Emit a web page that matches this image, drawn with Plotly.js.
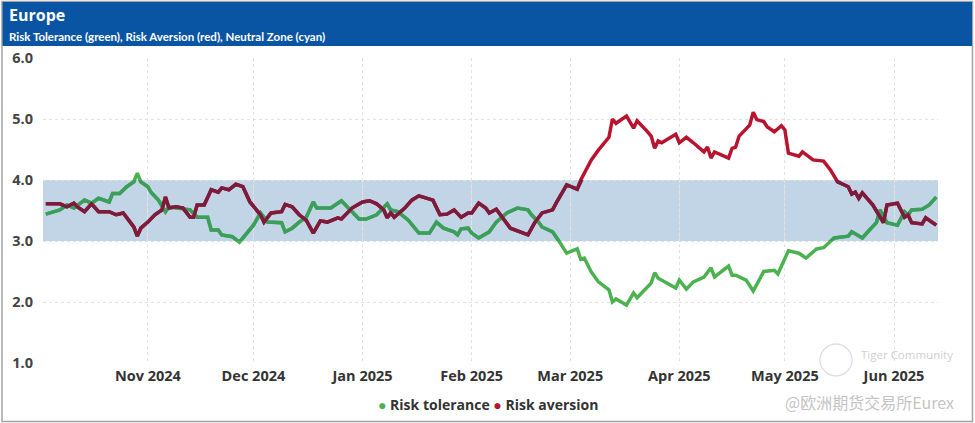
<!DOCTYPE html>
<html>
<head>
<meta charset="utf-8">
<script src="https://cdn.plot.ly/plotly-3.0.1.min.js"></script>
<style>html,body{margin:0;padding:0;background:#fff}#chart{width:975px;height:423px}</style>
</head>
<body>
<div id="chart"></div>
<script>
// ---- Data ----
const tolDates = ['2024-10-03','2024-10-07','2024-10-09','2024-10-11','2024-10-14','2024-10-16','2024-10-18','2024-10-21','2024-10-22','2024-10-24','2024-10-26','2024-10-28','2024-10-29','2024-10-30',
'2024-11-01','2024-11-02','2024-11-04','2024-11-06','2024-11-07','2024-11-10','2024-11-13','2024-11-15','2024-11-18','2024-11-19','2024-11-21','2024-11-22','2024-11-25','2024-11-27','2024-11-28',
'2024-12-01','2024-12-03','2024-12-05','2024-12-09','2024-12-10','2024-12-12','2024-12-14','2024-12-16','2024-12-18','2024-12-19','2024-12-23','2024-12-26','2024-12-28','2024-12-31',
'2025-01-02','2025-01-05','2025-01-08','2025-01-09','2025-01-11','2025-01-14','2025-01-17','2025-01-20','2025-01-22','2025-01-24','2025-01-27','2025-01-28','2025-01-29','2025-01-31',
'2025-02-01','2025-02-03','2025-02-06','2025-02-08','2025-02-11','2025-02-14','2025-02-17','2025-02-18','2025-02-20','2025-02-21','2025-02-24','2025-02-25','2025-02-28',
'2025-03-03','2025-03-04','2025-03-05','2025-03-07','2025-03-09','2025-03-12','2025-03-13','2025-03-14','2025-03-17','2025-03-19','2025-03-20','2025-03-24','2025-03-25','2025-03-26','2025-03-31',
'2025-04-01','2025-04-03','2025-04-05','2025-04-08','2025-04-10','2025-04-11','2025-04-15','2025-04-16','2025-04-17','2025-04-20','2025-04-22','2025-04-24','2025-04-25','2025-04-28','2025-04-29',
'2025-05-02','2025-05-05','2025-05-07','2025-05-10','2025-05-12','2025-05-15','2025-05-19','2025-05-20','2025-05-23','2025-05-25','2025-05-27','2025-05-28','2025-05-30',
'2025-06-02','2025-06-04','2025-06-05','2025-06-06','2025-06-09','2025-06-11','2025-06-13'];
const tolValues = [3.44,3.51,3.59,3.54,3.67,3.62,3.70,3.64,3.78,3.78,3.89,3.97,4.11,3.97,
3.89,3.79,3.67,3.48,3.56,3.54,3.51,3.39,3.39,3.18,3.18,3.10,3.07,2.98,3.05,
3.26,3.46,3.31,3.30,3.15,3.21,3.31,3.39,3.64,3.54,3.54,3.66,3.54,3.36,
3.36,3.43,3.61,3.51,3.48,3.34,3.13,3.13,3.31,3.21,3.15,3.10,3.20,3.21,
3.13,3.05,3.15,3.31,3.46,3.54,3.51,3.43,3.31,3.23,3.15,3.07,2.80,
2.87,2.70,2.72,2.49,2.33,2.20,2.00,2.05,1.95,2.15,2.07,2.31,2.48,2.39,2.23,
2.36,2.21,2.33,2.41,2.56,2.41,2.59,2.44,2.44,2.36,2.18,2.39,2.50,2.52,2.46,
2.84,2.80,2.72,2.87,2.89,3.05,3.08,3.15,3.05,3.18,3.30,3.51,3.30,
3.26,3.48,3.43,3.51,3.52,3.59,3.72];

const avDates = ['2024-10-03','2024-10-07','2024-10-09','2024-10-11','2024-10-12','2024-10-14','2024-10-16','2024-10-18','2024-10-21','2024-10-23','2024-10-25','2024-10-27','2024-10-28','2024-10-29','2024-10-30',
'2024-11-01','2024-11-03','2024-11-05','2024-11-06','2024-11-07','2024-11-09','2024-11-11','2024-11-13','2024-11-14','2024-11-15','2024-11-17','2024-11-19','2024-11-21','2024-11-22','2024-11-24','2024-11-26','2024-11-28','2024-11-30',
'2024-12-03','2024-12-04','2024-12-06','2024-12-09','2024-12-10','2024-12-12','2024-12-14','2024-12-16','2024-12-18','2024-12-20','2024-12-22','2024-12-25','2024-12-26','2024-12-29',
'2025-01-01','2025-01-03','2025-01-05','2025-01-07','2025-01-08','2025-01-09','2025-01-10','2025-01-13','2025-01-15','2025-01-17','2025-01-21','2025-01-23','2025-01-25','2025-01-27','2025-01-29','2025-01-31',
'2025-02-01','2025-02-03','2025-02-05','2025-02-06','2025-02-08','2025-02-10','2025-02-12','2025-02-17','2025-02-19','2025-02-21','2025-02-24','2025-02-25','2025-02-28',
'2025-03-03','2025-03-04','2025-03-07','2025-03-09','2025-03-12','2025-03-13','2025-03-14','2025-03-17','2025-03-19','2025-03-20','2025-03-23','2025-03-24','2025-03-25','2025-03-26','2025-03-27','2025-03-31',
'2025-04-01','2025-04-03','2025-04-05','2025-04-08','2025-04-09','2025-04-10','2025-04-11','2025-04-15','2025-04-16','2025-04-17','2025-04-18','2025-04-21','2025-04-22','2025-04-23','2025-04-25','2025-04-26','2025-04-28','2025-04-30',
'2025-05-01','2025-05-02','2025-05-05','2025-05-06','2025-05-09','2025-05-12','2025-05-14','2025-05-16','2025-05-19','2025-05-20','2025-05-21','2025-05-22','2025-05-23','2025-05-26','2025-05-29','2025-05-30',
'2025-06-02','2025-06-04','2025-06-05','2025-06-06','2025-06-09','2025-06-10','2025-06-12','2025-06-13'];
const avValues = [3.61,3.61,3.56,3.62,3.56,3.48,3.61,3.48,3.48,3.43,3.46,3.31,3.23,3.08,3.21,
3.31,3.43,3.51,3.72,3.54,3.56,3.54,3.39,3.39,3.59,3.59,3.84,3.80,3.87,3.84,3.93,3.89,3.64,
3.43,3.31,3.46,3.48,3.60,3.56,3.43,3.34,3.13,3.33,3.31,3.38,3.36,3.54,
3.64,3.66,3.61,3.51,3.38,3.46,3.39,3.54,3.67,3.74,3.67,3.43,3.44,3.51,3.39,3.46,
3.46,3.62,3.54,3.46,3.52,3.36,3.21,3.10,3.31,3.46,3.51,3.62,3.92,
3.85,4.00,4.33,4.49,4.70,5.00,4.93,5.05,4.85,4.97,4.79,4.72,4.52,4.64,4.61,4.75,
4.61,4.70,4.61,4.46,4.54,4.36,4.46,4.36,4.52,4.54,4.72,4.90,5.11,4.99,4.96,4.87,4.79,4.89,
4.82,4.44,4.39,4.46,4.33,4.31,4.16,3.97,3.89,3.77,3.80,3.70,3.79,3.59,3.30,3.59,
3.62,3.39,3.43,3.30,3.28,3.38,3.30,3.26];

const neutralZone = [3, 4];
const seriesNames = ['Risk tolerance', 'Risk aversion'];

// ---- Styling ----
const GREEN = '#4cb14f', GREEN_IN = '#3c9e5c';
const RED = '#b8142f', RED_IN = '#7c1c3c';
const FONT = 'Open Sans, Noto Sans, sans-serif';

// px helpers for paper coordinates (plot area: x 43..938, y 58..363)
const L = 43, R = 938, T = 58, B = 363;
const px = x => (x - L) / (R - L);
const py = y => (B - y) / (B - T);

const traces = [
  {x: tolDates, y: tolValues, name: seriesNames[0], type: 'scatter', mode: 'lines',
   line: {color: GREEN, width: 3.5}, xaxis: 'x', yaxis: 'y', hoverinfo: 'x+y'},
  {x: avDates, y: avValues, name: seriesNames[1], type: 'scatter', mode: 'lines',
   line: {color: RED, width: 3.5}, xaxis: 'x', yaxis: 'y', hoverinfo: 'x+y'},
  // same series drawn on an overlay axis covering only the neutral zone (clipped there)
  {x: tolDates, y: tolValues, name: seriesNames[0], type: 'scatter', mode: 'lines',
   line: {color: GREEN_IN, width: 3.5}, xaxis: 'x', yaxis: 'y2', hoverinfo: 'skip', showlegend: false},
  {x: avDates, y: avValues, name: seriesNames[1], type: 'scatter', mode: 'lines',
   line: {color: RED_IN, width: 3.5}, xaxis: 'x', yaxis: 'y2', hoverinfo: 'skip', showlegend: false}
];

const yMin = 1, yMax = 6;
const layout = {
  width: 975, height: 423,
  margin: {l: L, r: 975 - R, t: T, b: 423 - B, pad: 0},
  paper_bgcolor: '#ffffff',
  plot_bgcolor: 'rgba(0,0,0,0)',
  showlegend: false,
  font: {family: FONT, color: '#333'},
  xaxis: {
    type: 'date',
    range: ['2024-10-02 05:00', '2025-06-13 12:00'],
    tick0: '2024-11-01', dtick: 'M1', tickformat: '%b %Y',
    showgrid: true, gridcolor: '#e2e2e2', griddash: 'dot', gridwidth: 1,
    zeroline: false, showline: false, ticks: '',
    ticklabelstandoff: 2,
    tickfont: {family: FONT, size: 14.5, color: '#333', weight: 700}
  },
  yaxis: {
    range: [yMin, yMax], dtick: 1, tickformat: '.1f',
    showgrid: true, gridcolor: '#e2e2e2', griddash: 'dot', gridwidth: 1,
    zeroline: false, showline: false, ticks: '',
    ticklabelstandoff: 9,
    tickfont: {family: FONT, size: 14.5, color: '#444', weight: 700}
  },
  yaxis2: {
    range: neutralZone,
    domain: [(neutralZone[0] - yMin) / (yMax - yMin), (neutralZone[1] - yMin) / (yMax - yMin)],
    anchor: 'x', visible: false, showgrid: false, zeroline: false
  },
  shapes: [
    // outer frame
    {type: 'rect', xref: 'paper', yref: 'paper', x0: px(2), x1: px(972.5), y0: py(421.5), y1: py(1.5),
     line: {color: '#a3a3a3', width: 1.5}, fillcolor: 'rgba(0,0,0,0)', layer: 'below'},
    // header bar
    {type: 'rect', xref: 'paper', yref: 'paper', x0: px(2.5), x1: px(972), y0: py(46), y1: py(2),
     line: {width: 0}, fillcolor: '#0a55a3', layer: 'below'},
    // neutral zone band
    {type: 'rect', xref: 'paper', yref: 'y', x0: 0, x1: 1, y0: neutralZone[0], y1: neutralZone[1],
     line: {width: 0}, fillcolor: '#c2d5e7', layer: 'below'},
    // watermark logo circle
    {type: 'circle', xref: 'paper', yref: 'paper', x0: px(820), x1: px(852), y0: py(376), y1: py(344),
     line: {color: '#dedede', width: 1.3}, fillcolor: 'rgba(0,0,0,0)', layer: 'above'}
  ],
  annotations: [
    {xref: 'paper', yref: 'paper', x: px(7), y: py(15), xanchor: 'left', yanchor: 'middle',
     text: 'Europe', showarrow: false, font: {family: FONT, size: 16, color: '#ffffff', weight: 700}},
    {xref: 'paper', yref: 'paper', x: px(7), y: py(36), xanchor: 'left', yanchor: 'middle',
     text: 'Risk Tolerance (green), Risk Aversion (red), Neutral Zone (cyan)', showarrow: false,
     font: {family: 'Lato, sans-serif', size: 11.5, color: '#ffffff', weight: 700}},
    {xref: 'paper', yref: 'paper', x: px(488), y: py(404), xanchor: 'center', yanchor: 'middle',
     text: '<span style="color:' + GREEN + '">●</span> ' + seriesNames[0] + ' <span style="color:' + RED + '">●</span> ' + seriesNames[1],
     showarrow: false, font: {family: FONT, size: 14, color: '#333', weight: 700}},
    {xref: 'paper', yref: 'paper', x: px(907), y: py(354), xanchor: 'center', yanchor: 'middle',
     text: 'Tiger Community', showarrow: false, font: {family: FONT, size: 11.5, color: '#cfcfcf'}},
    {xref: 'paper', yref: 'paper', x: px(869), y: py(402), xanchor: 'center', yanchor: 'middle',
     text: '@欧洲期货交易所Eurex', showarrow: false, font: {family: 'Noto Sans CJK SC, sans-serif', size: 16, color: '#c4c4c4'}}
  ]
};

Plotly.newPlot('chart', traces, layout, {displayModeBar: false, staticPlot: true});
</script>
</body>
</html>
